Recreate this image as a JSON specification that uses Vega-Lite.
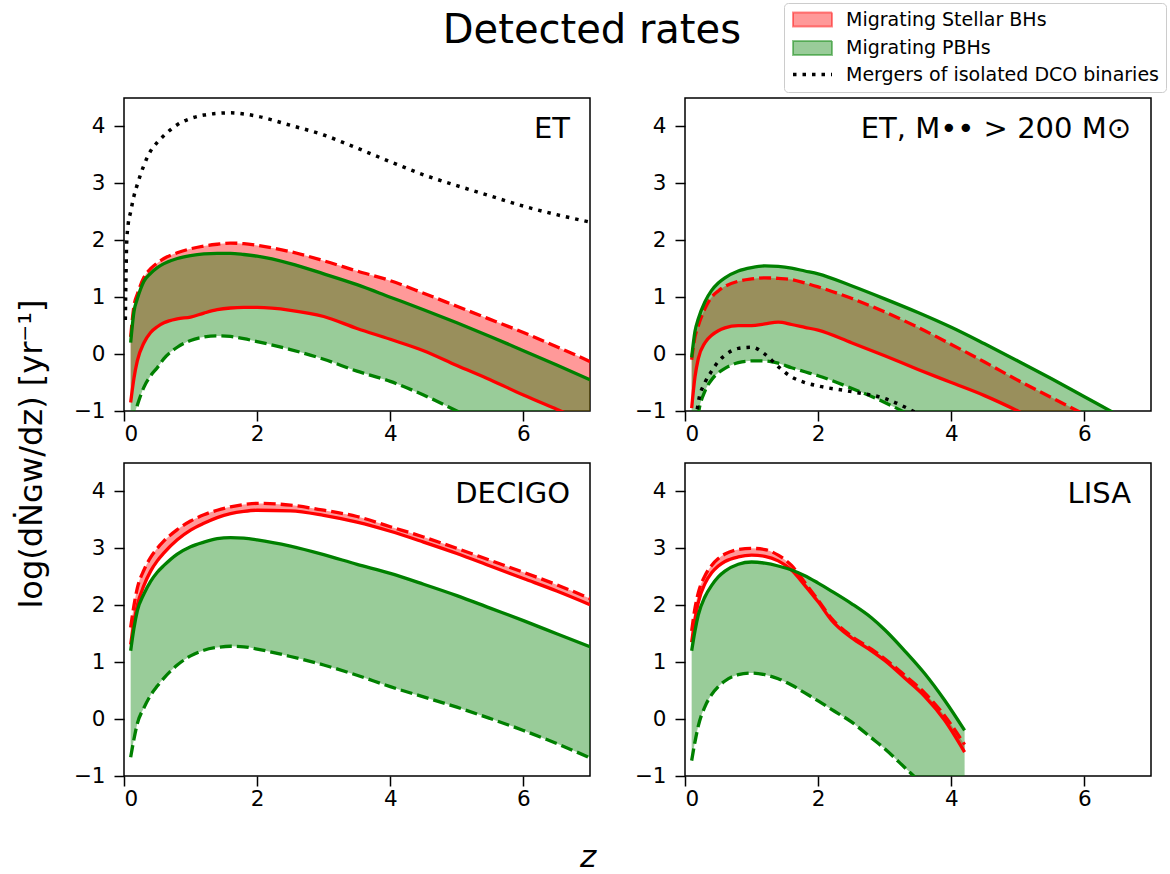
{
  "$schema": "https://vega.github.io/schema/vega-lite/v6.json",
  "autosize": {"type": "pad"},
  "padding": {"left": 15, "top": 2, "right": 2, "bottom": 0},
  "background": "white",
  "title": {"text": "z", "orient": "bottom", "fontSize": 31, "font": "DejaVu Sans", "fontStyle": "italic", "fontWeight": "normal", "color": "black", "anchor": "middle", "frame": "bounds", "offset": 33, "dx": -3},
  "data": {"values": [
    {"p": "ET", "z": 0.02, "bk": 0.6},
    {"p": "ET", "z": 0.03, "bk": 1.4},
    {"p": "ET", "z": 0.04, "bk": 1.95},
    {"p": "ET", "z": 0.06, "bk": 2.25},
    {"p": "ET", "z": 0.1, "rs": -0.85, "rd": 0.3, "gs": 0.2, "gd": -1.5, "bk": 2.5},
    {"p": "ET", "z": 0.15, "rs": -0.42, "rd": 0.85, "gs": 0.75, "gd": -1.1, "bk": 2.78},
    {"p": "ET", "z": 0.2, "rs": -0.12, "rd": 1.05, "gs": 0.97, "gd": -0.9, "bk": 2.98},
    {"p": "ET", "z": 0.3, "rs": 0.2, "rd": 1.35, "gs": 1.28, "gd": -0.58, "bk": 3.32},
    {"p": "ET", "z": 0.4, "rs": 0.38, "rd": 1.5, "gs": 1.42, "gd": -0.38, "bk": 3.57},
    {"p": "ET", "z": 0.5, "rs": 0.48, "rd": 1.6, "gs": 1.52, "gd": -0.24, "bk": 3.72},
    {"p": "ET", "z": 0.6, "rs": 0.55, "rd": 1.68, "gs": 1.59, "gd": -0.08, "bk": 3.84},
    {"p": "ET", "z": 0.8, "rs": 0.62, "rd": 1.78, "gs": 1.68, "gd": 0.12, "bk": 4.03},
    {"p": "ET", "z": 1.0, "rs": 0.65, "rd": 1.85, "gs": 1.73, "gd": 0.24, "bk": 4.14},
    {"p": "ET", "z": 1.2, "rs": 0.72, "rd": 1.9, "gs": 1.76, "gd": 0.3, "bk": 4.2},
    {"p": "ET", "z": 1.4, "rs": 0.78, "rd": 1.93, "gs": 1.77, "gd": 0.32, "bk": 4.23},
    {"p": "ET", "z": 1.6, "rs": 0.81, "rd": 1.95, "gs": 1.77, "gd": 0.31, "bk": 4.24},
    {"p": "ET", "z": 1.8, "rs": 0.82, "rd": 1.94, "gs": 1.75, "gd": 0.27, "bk": 4.22},
    {"p": "ET", "z": 2.0, "rs": 0.82, "rd": 1.91, "gs": 1.72, "gd": 0.22, "bk": 4.18},
    {"p": "ET", "z": 2.5, "rs": 0.77, "rd": 1.8, "gs": 1.59, "gd": 0.08, "bk": 4.02},
    {"p": "ET", "z": 3.0, "rs": 0.66, "rd": 1.64, "gs": 1.41, "gd": -0.09, "bk": 3.85},
    {"p": "ET", "z": 3.5, "rs": 0.45, "rd": 1.46, "gs": 1.22, "gd": -0.3, "bk": 3.62},
    {"p": "ET", "z": 4.0, "rs": 0.26, "rd": 1.29, "gs": 1.0, "gd": -0.48, "bk": 3.38},
    {"p": "ET", "z": 4.5, "rs": 0.06, "rd": 1.07, "gs": 0.78, "gd": -0.72, "bk": 3.15},
    {"p": "ET", "z": 5.0, "rs": -0.2, "rd": 0.84, "gs": 0.55, "gd": -1.0, "bk": 2.96},
    {"p": "ET", "z": 5.5, "rs": -0.45, "rd": 0.61, "gs": 0.31, "gd": -1.28, "bk": 2.78},
    {"p": "ET", "z": 6.0, "rs": -0.72, "rd": 0.38, "gs": 0.06, "gd": -1.55, "bk": 2.6},
    {"p": "ET", "z": 6.5, "rs": -0.97, "rd": 0.13, "gs": -0.19, "gd": -1.82, "bk": 2.45},
    {"p": "ET", "z": 7.0, "rs": -1.22, "rd": -0.13, "gs": -0.45, "gd": -2.1, "bk": 2.32},

    {"p": "ET, M•• > 200 M⊙", "z": 0.1, "rs": -0.95, "rd": -0.1, "gs": -0.06, "gd": -2.0, "bk": -1.8},
    {"p": "ET, M•• > 200 M⊙", "z": 0.15, "rs": -0.4, "rd": 0.3, "gs": 0.4, "gd": -1.5, "bk": -1.3},
    {"p": "ET, M•• > 200 M⊙", "z": 0.2, "rs": -0.08, "rd": 0.5, "gs": 0.62, "gd": -1.05, "bk": -0.85},
    {"p": "ET, M•• > 200 M⊙", "z": 0.3, "rs": 0.2, "rd": 0.8, "gs": 0.92, "gd": -0.65, "bk": -0.5},
    {"p": "ET, M•• > 200 M⊙", "z": 0.4, "rs": 0.33, "rd": 1.0, "gs": 1.12, "gd": -0.45, "bk": -0.3},
    {"p": "ET, M•• > 200 M⊙", "z": 0.5, "rs": 0.41, "rd": 1.11, "gs": 1.25, "gd": -0.33, "bk": -0.13},
    {"p": "ET, M•• > 200 M⊙", "z": 0.6, "rs": 0.46, "rd": 1.19, "gs": 1.34, "gd": -0.25, "bk": -0.02},
    {"p": "ET, M•• > 200 M⊙", "z": 0.8, "rs": 0.5, "rd": 1.28, "gs": 1.46, "gd": -0.15, "bk": 0.1},
    {"p": "ET, M•• > 200 M⊙", "z": 1.0, "rs": 0.5, "rd": 1.32, "gs": 1.52, "gd": -0.12, "bk": 0.12},
    {"p": "ET, M•• > 200 M⊙", "z": 1.2, "rs": 0.53, "rd": 1.34, "gs": 1.55, "gd": -0.12, "bk": 0.0},
    {"p": "ET, M•• > 200 M⊙", "z": 1.4, "rs": 0.56, "rd": 1.33, "gs": 1.54, "gd": -0.16, "bk": -0.22},
    {"p": "ET, M•• > 200 M⊙", "z": 1.6, "rs": 0.52, "rd": 1.31, "gs": 1.51, "gd": -0.24, "bk": -0.4},
    {"p": "ET, M•• > 200 M⊙", "z": 1.8, "rs": 0.47, "rd": 1.25, "gs": 1.46, "gd": -0.31, "bk": -0.5},
    {"p": "ET, M•• > 200 M⊙", "z": 2.0, "rs": 0.42, "rd": 1.18, "gs": 1.41, "gd": -0.38, "bk": -0.56},
    {"p": "ET, M•• > 200 M⊙", "z": 2.5, "rs": 0.2, "rd": 0.98, "gs": 1.2, "gd": -0.6, "bk": -0.66},
    {"p": "ET, M•• > 200 M⊙", "z": 3.0, "rs": -0.03, "rd": 0.74, "gs": 0.97, "gd": -0.85, "bk": -0.78},
    {"p": "ET, M•• > 200 M⊙", "z": 3.5, "rs": -0.27, "rd": 0.47, "gs": 0.73, "gd": -1.15, "bk": -1.05},
    {"p": "ET, M•• > 200 M⊙", "z": 4.0, "rs": -0.5, "rd": 0.17, "gs": 0.47, "gd": -1.5, "bk": -1.4},
    {"p": "ET, M•• > 200 M⊙", "z": 4.5, "rs": -0.73, "rd": -0.14, "gs": 0.18, "gd": -1.85},
    {"p": "ET, M•• > 200 M⊙", "z": 5.0, "rs": -1.0, "rd": -0.46, "gs": -0.12, "gd": -2.2},
    {"p": "ET, M•• > 200 M⊙", "z": 5.5, "rs": -1.3, "rd": -0.76, "gs": -0.43, "gd": -2.55},
    {"p": "ET, M•• > 200 M⊙", "z": 6.0, "rs": -1.6, "rd": -1.06, "gs": -0.75, "gd": -2.9},
    {"p": "ET, M•• > 200 M⊙", "z": 6.5, "rs": -1.9, "rd": -1.36, "gs": -1.07, "gd": -3.2},
    {"p": "ET, M•• > 200 M⊙", "z": 7.0, "rs": -2.2, "rd": -1.66, "gs": -1.4, "gd": -3.5},

    {"p": "DECIGO", "z": 0.1, "rs": 1.31, "rd": 1.61, "gs": 1.2, "gd": -0.67},
    {"p": "DECIGO", "z": 0.15, "rs": 1.7, "rd": 2.0, "gs": 1.6, "gd": -0.35},
    {"p": "DECIGO", "z": 0.2, "rs": 2.0, "rd": 2.3, "gs": 1.9, "gd": -0.08},
    {"p": "DECIGO", "z": 0.3, "rs": 2.35, "rd": 2.62, "gs": 2.2, "gd": 0.2},
    {"p": "DECIGO", "z": 0.4, "rs": 2.6, "rd": 2.84, "gs": 2.42, "gd": 0.42},
    {"p": "DECIGO", "z": 0.5, "rs": 2.78, "rd": 3.0, "gs": 2.58, "gd": 0.58},
    {"p": "DECIGO", "z": 0.6, "rs": 2.92, "rd": 3.13, "gs": 2.7, "gd": 0.72},
    {"p": "DECIGO", "z": 0.8, "rs": 3.15, "rd": 3.33, "gs": 2.9, "gd": 0.95},
    {"p": "DECIGO", "z": 1.0, "rs": 3.32, "rd": 3.48, "gs": 3.03, "gd": 1.11},
    {"p": "DECIGO", "z": 1.2, "rs": 3.44, "rd": 3.59, "gs": 3.11, "gd": 1.21},
    {"p": "DECIGO", "z": 1.4, "rs": 3.54, "rd": 3.67, "gs": 3.17, "gd": 1.26},
    {"p": "DECIGO", "z": 1.6, "rs": 3.61, "rd": 3.73, "gs": 3.19, "gd": 1.28},
    {"p": "DECIGO", "z": 1.8, "rs": 3.65, "rd": 3.77, "gs": 3.18, "gd": 1.27},
    {"p": "DECIGO", "z": 2.0, "rs": 3.67, "rd": 3.79, "gs": 3.15, "gd": 1.23},
    {"p": "DECIGO", "z": 2.5, "rs": 3.66, "rd": 3.76, "gs": 3.04, "gd": 1.1},
    {"p": "DECIGO", "z": 3.0, "rs": 3.58, "rd": 3.67, "gs": 2.89, "gd": 0.95},
    {"p": "DECIGO", "z": 3.5, "rs": 3.46, "rd": 3.56, "gs": 2.72, "gd": 0.77},
    {"p": "DECIGO", "z": 4.0, "rs": 3.3, "rd": 3.38, "gs": 2.56, "gd": 0.57},
    {"p": "DECIGO", "z": 4.5, "rs": 3.11, "rd": 3.2, "gs": 2.37, "gd": 0.39},
    {"p": "DECIGO", "z": 5.0, "rs": 2.91, "rd": 3.0, "gs": 2.17, "gd": 0.21},
    {"p": "DECIGO", "z": 5.5, "rs": 2.69, "rd": 2.79, "gs": 1.95, "gd": 0.01},
    {"p": "DECIGO", "z": 6.0, "rs": 2.47, "rd": 2.58, "gs": 1.73, "gd": -0.2},
    {"p": "DECIGO", "z": 6.5, "rs": 2.25, "rd": 2.36, "gs": 1.5, "gd": -0.43},
    {"p": "DECIGO", "z": 7.0, "rs": 2.01, "rd": 2.12, "gs": 1.27, "gd": -0.68},

    {"p": "LISA", "z": 0.1, "rs": 1.35, "rd": 1.55, "gs": 1.2, "gd": -0.73},
    {"p": "LISA", "z": 0.15, "rs": 1.75, "rd": 1.95, "gs": 1.55, "gd": -0.4},
    {"p": "LISA", "z": 0.2, "rs": 2.05, "rd": 2.22, "gs": 1.83, "gd": -0.12},
    {"p": "LISA", "z": 0.3, "rs": 2.38, "rd": 2.52, "gs": 2.15, "gd": 0.22},
    {"p": "LISA", "z": 0.4, "rs": 2.57, "rd": 2.7, "gs": 2.35, "gd": 0.43},
    {"p": "LISA", "z": 0.5, "rs": 2.69, "rd": 2.82, "gs": 2.5, "gd": 0.57},
    {"p": "LISA", "z": 0.6, "rs": 2.77, "rd": 2.9, "gs": 2.6, "gd": 0.67},
    {"p": "LISA", "z": 0.8, "rs": 2.85, "rd": 2.98, "gs": 2.72, "gd": 0.78},
    {"p": "LISA", "z": 1.0, "rs": 2.88, "rd": 3.0, "gs": 2.76, "gd": 0.81},
    {"p": "LISA", "z": 1.2, "rs": 2.86, "rd": 2.98, "gs": 2.74, "gd": 0.78},
    {"p": "LISA", "z": 1.4, "rs": 2.78, "rd": 2.88, "gs": 2.69, "gd": 0.71},
    {"p": "LISA", "z": 1.6, "rs": 2.62, "rd": 2.7, "gs": 2.62, "gd": 0.6},
    {"p": "LISA", "z": 1.8, "rs": 2.35, "rd": 2.4, "gs": 2.52, "gd": 0.46},
    {"p": "LISA", "z": 2.0, "rs": 2.06, "rd": 2.09, "gs": 2.39, "gd": 0.32},
    {"p": "LISA", "z": 2.2, "rs": 1.74, "rd": 1.77, "gs": 2.25, "gd": 0.17},
    {"p": "LISA", "z": 2.5, "rs": 1.43, "rd": 1.46, "gs": 2.03, "gd": -0.05},
    {"p": "LISA", "z": 2.8, "rs": 1.2, "rd": 1.23, "gs": 1.78, "gd": -0.33},
    {"p": "LISA", "z": 3.0, "rs": 1.03, "rd": 1.06, "gs": 1.57, "gd": -0.52},
    {"p": "LISA", "z": 3.3, "rs": 0.72, "rd": 0.77, "gs": 1.2, "gd": -0.85},
    {"p": "LISA", "z": 3.6, "rs": 0.4, "rd": 0.46, "gs": 0.8, "gd": -1.18},
    {"p": "LISA", "z": 3.9, "rs": -0.02, "rd": 0.06, "gs": 0.33, "gd": -1.5},
    {"p": "LISA", "z": 4.2, "rs": -0.58, "rd": -0.45, "gs": -0.2, "gd": -1.85}
  ]},
  "transform": [
    {"calculate": "indexof(datum.p, 'ET') == 0 ? 0 : 1", "as": "row"},
    {"calculate": "datum.p == 'ET' || datum.p == 'DECIGO' ? 0 : 1", "as": "col"}
  ],
  "vconcat": [
    {
      "title": {"text": "Detected rates", "fontSize": 40, "font": "DejaVu Sans", "fontWeight": "normal", "color": "black", "anchor": "middle", "frame": "bounds", "offset": 46, "dx": 8},
      "facet": {
        "row": {"field": "row", "type": "ordinal", "title": "log(dṄɢᴡ/dz) [yr⁻¹]",
                "header": {"labels": false, "titleFont": "DejaVu Sans", "titleFontSize": 32, "titleFontWeight": "normal", "titleColor": "black", "titlePadding": 65}},
        "column": {"field": "col", "type": "ordinal", "title": null, "header": {"labels": false}}
      },
      "spacing": {"row": 52, "column": 95},
      "bounds": "flush",
      "resolve": {"axis": {"x": "independent", "y": "independent"}},
      "spec": {
        "width": 466,
        "height": 313,
        "layer": [
          {
            "transform": [{"filter": "isValid(datum.rs)"}],
            "mark": {"type": "area", "fillOpacity": 0.4, "clip": true, "interpolate": "monotone"},
            "encoding": {
              "x": {"field": "z", "type": "quantitative", "scale": {"domain": [0, 7], "nice": false}, "axis": {"values": [0, 2, 4, 6], "title": null, "format": "d"}},
              "y": {"field": "rs", "type": "quantitative", "scale": {"domain": [-1, 4.5], "nice": false}, "axis": {"values": [-1, 0, 1, 2, 3, 4], "title": null, "format": "d"}},
              "y2": {"field": "rd"},
              "color": {"datum": "Migrating Stellar BHs", "type": "nominal",
                "scale": {"domain": ["Migrating Stellar BHs", "Migrating PBHs", "Mergers of isolated DCO binaries"], "range": ["#ff0000", "#008000", "#000000"]},
                "legend": {
                  "title": null, "orient": "none", "legendX": 660, "legendY": -95,
                  "padding": 7, "strokeColor": "#cccccc", "fillColor": "white", "cornerRadius": 4,
                  "labelFont": "DejaVu Sans", "labelFontSize": 19, "labelColor": "black", "labelOffset": 24, "labelLimit": 400,
                  "symbolOffset": 12,
                  "rowPadding": 5.5, "symbolSize": 1521, "symbolType": "M-1,-0.36H1V0.36H-1Z",
                  "encode": {"symbols": {"update": {
                    "shape": {"signal": "datum.value == 'Mergers of isolated DCO binaries' ? 'M-1,0H1' : 'M-1,-0.36H1V0.36H-1Z'"},
                    "fill": {"signal": "datum.value == 'Migrating Stellar BHs' ? '#ff0000' : datum.value == 'Migrating PBHs' ? '#008000' : 'transparent'"},
                    "fillOpacity": {"value": 0.4},
                    "stroke": {"signal": "datum.value == 'Migrating Stellar BHs' ? '#ff0000' : datum.value == 'Migrating PBHs' ? '#008000' : '#000000'"},
                    "strokeOpacity": {"signal": "datum.value == 'Mergers of isolated DCO binaries' ? 1 : 0.45"},
                    "strokeWidth": {"signal": "datum.value == 'Mergers of isolated DCO binaries' ? 3.5 : 2"},
                    "strokeDash": {"signal": "datum.value == 'Mergers of isolated DCO binaries' ? [3.5, 6] : [1, 0]"},
                    "opacity": {"value": 1}
                  }}}
                }
              }
            }
          },
          {
            "transform": [{"filter": "isValid(datum.gs)"}],
            "mark": {"type": "area", "fillOpacity": 0.4, "clip": true, "interpolate": "monotone"},
            "encoding": {
              "x": {"field": "z", "type": "quantitative"},
              "y": {"field": "gs", "type": "quantitative"},
              "y2": {"field": "gd"},
              "color": {"datum": "Migrating PBHs", "type": "nominal"}
            }
          },
          {
            "mark": {"type": "line", "color": "#ff0000", "strokeWidth": 3.3, "clip": true, "interpolate": "monotone"},
            "encoding": {"x": {"field": "z", "type": "quantitative"}, "y": {"field": "rs", "type": "quantitative"}}
          },
          {
            "mark": {"type": "line", "color": "#ff0000", "strokeWidth": 3.3, "strokeDash": [12, 5], "clip": true, "interpolate": "monotone"},
            "encoding": {"x": {"field": "z", "type": "quantitative"}, "y": {"field": "rd", "type": "quantitative"}}
          },
          {
            "mark": {"type": "line", "color": "#008000", "strokeWidth": 3.3, "clip": true, "interpolate": "monotone"},
            "encoding": {"x": {"field": "z", "type": "quantitative"}, "y": {"field": "gs", "type": "quantitative"}}
          },
          {
            "mark": {"type": "line", "color": "#008000", "strokeWidth": 3.3, "strokeDash": [12, 5], "clip": true, "interpolate": "monotone"},
            "encoding": {"x": {"field": "z", "type": "quantitative"}, "y": {"field": "gd", "type": "quantitative"}}
          },
          {
            "mark": {"type": "line", "color": "#000000", "strokeWidth": 3.5, "strokeDash": [3.5, 6], "clip": true, "interpolate": "monotone"},
            "encoding": {"x": {"field": "z", "type": "quantitative"}, "y": {"field": "bk", "type": "quantitative"}}
          },
          {
            "transform": [{"filter": "datum.z == 0.1"}],
            "mark": {"type": "text", "align": "right", "baseline": "middle", "fontSize": 29, "font": "DejaVu Sans", "color": "black"},
            "encoding": {
              "x": {"datum": 6.7, "type": "quantitative"},
              "y": {"datum": 3.95, "type": "quantitative"},
              "text": {"field": "p"}
            }
          }
        ]
      }
    }
  ],
  "config": {
    "font": "DejaVu Sans",
    "view": {"stroke": "black", "strokeWidth": 1.5},
    "axis": {"grid": false, "domain": false, "ticks": true, "tickColor": "black", "tickWidth": 1.5, "tickSize": 10,
             "labelFont": "DejaVu Sans", "labelFontSize": 21.5, "labelColor": "black"},
    "axisX": {"labelPadding": 2},
    "axisY": {"labelPadding": 9}
  }
}
